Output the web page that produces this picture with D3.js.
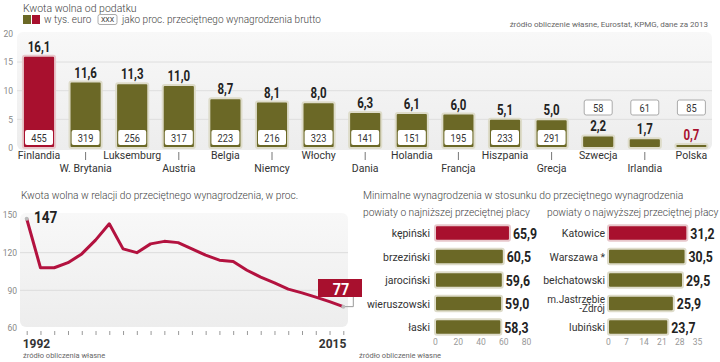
<!DOCTYPE html>
<html>
<head>
<meta charset="utf-8">
<script src="https://cdn.jsdelivr.net/npm/d3@7"></script>
<style>
  body { margin: 0; background: #fff; }
  svg { display: block; font-family: Roboto, "Liberation Sans", sans-serif; }
  .title { font-weight: 300; fill: #444; }
</style>
</head>
<body>
<svg id="chart" width="720" height="362"></svg>
<script>
// top chart data
const countries = ["Finlandia", "W. Brytania", "Luksemburg", "Austria", "Belgia", "Niemcy", "Włochy",
  "Dania", "Holandia", "Francja", "Hiszpania", "Grecja", "Szwecja", "Irlandia", "Polska"];
const kwota = [16.1, 11.6, 11.3, 11.0, 8.7, 8.1, 8.0, 6.3, 6.1, 6.0, 5.1, 5.0, 2.2, 1.7, 0.7];
const procent = [455, 319, 256, 317, 223, 216, 323, 141, 151, 195, 233, 291, 58, 61, 85];
const topTicks = [0, 5, 10, 15, 20];

// line chart data
const years = d3.range(1992, 2016);
const relacja = [147, 108, 108, 112, 119, 130, 143, 123, 120, 127, 129, 128, 123, 118, 114, 113,
  106, 100.5, 96, 91, 88, 84.6, 81, 77];
const lineTicks = [60, 90, 120, 150];

// bottom-right bars
const lowNames = ["kępiński", "brzeziński", "jarociński", "wieruszowski", "łaski"];
const lowVals = [65.9, 60.5, 59.6, 59.0, 58.3];
const lowTicks = [0, 20, 40, 60, 80];
const highNames = ["Katowice", "Warszawa *", "bełchatowski", "m.Jastrzębie\n-Zdrój", "lubiński"];
const highVals = [31.2, 30.5, 29.5, 25.9, 23.7];
const highTicks = [0, 7, 14, 21, 28, 35];

const RED = "#a8102e";
const OLIVE = "#6b6826";
const BORDER = "#dedcca";
const fmt = (v) => d3.format(".1f")(v).replace(".", ",");

// squeeze bold numbers so they look like the narrow newspaper face
function condense(sel, f) {
  sel.each(function () {
    const len = this.getComputedTextLength();
    d3.select(this).attr("textLength", len * f).attr("lengthAdjust", "spacingAndGlyphs");
  });
}

const svg = d3.select("#chart");

const defs = svg.append("defs");
const grad = defs.append("linearGradient").attr("id", "panel").attr("x1", 0).attr("y1", 0).attr("x2", 0).attr("y2", 1);
grad.append("stop").attr("offset", 0).attr("stop-color", "#f8f8f8");
grad.append("stop").attr("offset", 1).attr("stop-color", "#ededed");

// ---------- top chart ----------
svg.append("text").attr("class", "title").attr("x", 23).attr("y", 12).attr("font-size", 10.5)
  .text("Kwota wolna od podatku");
svg.append("rect").attr("x", 23).attr("y", 15).attr("width", 8).attr("height", 9).attr("fill", OLIVE);
svg.append("rect").attr("x", 32).attr("y", 15).attr("width", 8).attr("height", 9).attr("fill", RED);
svg.append("text").attr("class", "title").attr("x", 44).attr("y", 23).attr("font-size", 10).text("w tys. euro");
svg.append("rect").attr("x", 98).attr("y", 14.5).attr("width", 19).attr("height", 10).attr("rx", 2)
  .attr("fill", "#fff").attr("stroke", "#aaa");
svg.append("text").attr("x", 107.5).attr("y", 22).attr("font-size", 7).attr("text-anchor", "middle")
  .attr("fill", "#333").text("XXX");
svg.append("text").attr("class", "title").attr("x", 122).attr("y", 23).attr("font-size", 10)
  .text("jako proc. przeciętnego wynagrodzenia brutto");
svg.append("text").attr("x", 708).attr("y", 27).attr("font-size", 8).attr("text-anchor", "end")
  .attr("fill", "#666").text("źródło obliczenie własne, Eurostat, KPMG, dane za 2013");

const xTop = d3.scaleBand().domain(countries).range([15.7, 714.7]).paddingInner(0.31).paddingOuter(0.155);
const yTop = d3.scaleLinear().domain([0, 20]).range([148, 33.4]);

svg.append("rect").attr("x", 17).attr("y", 32).attr("width", 695).attr("height", 118).attr("rx", 6)
  .attr("fill", "url(#panel)");
svg.append("g").selectAll("line").data([5, 10, 15]).join("line")
  .attr("x1", 17).attr("x2", 712).attr("y1", (d) => yTop(d)).attr("y2", (d) => yTop(d))
  .attr("stroke", "#dedede");

const yTopAxis = svg.append("g").attr("transform", "translate(16,0)")
  .call(d3.axisLeft(yTop).tickValues(topTicks).tickSize(0).tickPadding(3));
yTopAxis.select(".domain").remove();
yTopAxis.selectAll("text").attr("font-size", 8.5).attr("fill", "#888").attr("font-family", "Roboto");

const tb = svg.append("g");
countries.forEach((c, i) => {
  const x = xTop(c), w = xTop.bandwidth(), cx = x + w / 2;
  const y = yTop(kwota[i]);
  tb.append("rect").attr("x", x).attr("y", y).attr("width", w).attr("height", yTop(0) - y)
    .attr("rx", 2).attr("fill", i === 0 ? RED : OLIVE).attr("stroke", i === 0 ? "#e8c8cc" : BORDER)
    .attr("stroke-width", 2);
  tb.append("text").attr("class", "num").attr("x", cx).attr("y", y - 4).attr("text-anchor", "middle")
    .attr("font-size", 14).attr("font-weight", "bold").attr("fill", i === countries.length - 1 ? RED : "#222")
    .text(fmt(kwota[i]));
  const inside = kwota[i] >= 4;
  const by = inside ? 130 : 100;
  tb.append("rect").attr("x", cx - 14).attr("y", by).attr("width", 28).attr("height", 15).attr("rx", 2)
    .attr("fill", "#fff").attr("stroke", inside ? "none" : "#aaa");
  tb.append("text").attr("class", "pct").attr("x", cx).attr("y", by + 11.5).attr("text-anchor", "middle")
    .attr("font-size", 10.5).attr("fill", "#333").text(procent[i]);
  const row = i % 2;
  if (row === 1) {
    tb.append("line").attr("x1", cx).attr("x2", cx).attr("y1", 152).attr("y2", 160)
      .attr("stroke", "#777");
  }
  tb.append("text").attr("x", cx).attr("y", row ? 172 : 159).attr("text-anchor", "middle")
    .attr("font-size", 10.5).attr("fill", "#333").text(c);
});
condense(tb.selectAll("text.num"), 0.82);
condense(tb.selectAll("text.pct"), 0.88);

// ---------- line chart ----------
svg.append("text").attr("class", "title").attr("x", 21).attr("y", 199).attr("font-size", 10.2)
  .text("Kwota wolna w relacji do przeciętnego wynagrodzenia, w proc.");

const xLine = d3.scaleLinear().domain([1992, 2015]).range([26.7, 343.3]);
const yLine = d3.scaleLinear().domain([60, 150]).range([328, 215]);

svg.append("rect").attr("x", 20).attr("y", 213).attr("width", 328).attr("height", 114).attr("rx", 6)
  .attr("fill", "url(#panel)");
svg.append("g").selectAll("line").data([90, 120]).join("line")
  .attr("x1", 20).attr("x2", 348).attr("y1", (d) => yLine(d)).attr("y2", (d) => yLine(d))
  .attr("stroke", "#dcdcdc");

const yLineAxis = svg.append("g").attr("transform", "translate(19,0)")
  .call(d3.axisLeft(yLine).tickValues(lineTicks).tickSize(0).tickPadding(2));
yLineAxis.select(".domain").remove();
yLineAxis.selectAll("text").attr("font-size", 8.5).attr("fill", "#888").attr("font-family", "Roboto");

const xLineAxis = svg.append("g").attr("transform", "translate(0,331)")
  .call(d3.axisBottom(xLine).tickValues(years).tickSize(4).tickFormat(""));
xLineAxis.select(".domain").remove();
xLineAxis.selectAll("line").attr("stroke", "#999");

svg.append("text").attr("x", xLine(1992) - 4).attr("y", 348).attr("font-size", 12).attr("font-weight", "bold")
  .attr("fill", "#333").text("1992");
svg.append("text").attr("x", xLine(2015) + 3).attr("y", 348).attr("text-anchor", "end").attr("font-size", 12)
  .attr("font-weight", "bold").attr("fill", "#333").text("2015");
svg.append("text").attr("x", 23).attr("y", 358).attr("font-size", 7.5).attr("fill", "#666")
  .text("źródło obliczenia własne");

const line = d3.line().x((d, i) => xLine(years[i])).y((d) => yLine(d));
svg.append("path").datum(relacja).attr("fill", "none").attr("stroke", "#b3123f").attr("stroke-width", 3)
  .attr("stroke-linejoin", "round").attr("d", line);

const last = relacja.length - 1;
svg.append("circle").attr("cx", xLine(years[0])).attr("cy", yLine(relacja[0])).attr("r", 2).attr("fill", "#bbb");
const t147 = svg.append("text").attr("x", 34).attr("y", 222.5).attr("font-size", 17)
  .attr("font-weight", "bold").attr("fill", "#222").text(relacja[0]);
condense(t147, 0.8);

const lx = xLine(years[last]), ly = yLine(relacja[last]);
svg.append("path").attr("d", `M${lx},${ly}H${lx + 10}V297`).attr("fill", "none").attr("stroke", "#999");
svg.append("circle").attr("cx", lx).attr("cy", ly).attr("r", 2).attr("fill", "#bbb");
svg.append("rect").attr("x", 318).attr("y", 279).attr("width", 44).attr("height", 18).attr("fill", RED);
const t77 = svg.append("text").attr("x", 341).attr("y", 294.5).attr("text-anchor", "middle")
  .attr("font-size", 17).attr("font-weight", "bold").attr("fill", "#fff").text(relacja[last]);
condense(t77, 0.85);

// ---------- bottom-right bars ----------
svg.append("text").attr("class", "title").attr("x", 363).attr("y", 199).attr("font-size", 10.4)
  .text("Minimalne wynagrodzenia w stosunku do przeciętnego wynagrodzenia");
svg.append("text").attr("class", "title").attr("x", 363).attr("y", 216).attr("font-size", 10.2)
  .text("powiaty o najniższej przeciętnej płacy");
svg.append("text").attr("class", "title").attr("x", 547).attr("y", 216).attr("font-size", 10.2)
  .text("powiaty o najwyższej przeciętnej płacy");
svg.append("text").attr("x", 359).attr("y", 358).attr("font-size", 7.5).attr("fill", "#666")
  .text("źródło obliczenie własne");

function hbars(names, vals, ticks, x0, x1, labelX) {
  const x = d3.scaleLinear().domain([0, ticks[ticks.length - 1]]).range([x0, x1]);
  const y = d3.scaleBand().domain(names).range([221.3, 338.8]).paddingInner(0.34).paddingOuter(0.17);
  const g = svg.append("g");
  names.forEach((n, i) => {
    const yy = y(n), h = y.bandwidth(), cy = yy + h / 2;
    g.append("rect").attr("x", x(0)).attr("y", yy).attr("width", x(vals[i]) - x(0)).attr("height", h)
      .attr("rx", 2).attr("fill", i === 0 ? RED : OLIVE).attr("stroke", i === 0 ? "#e8c8cc" : BORDER)
      .attr("stroke-width", 2);
    g.append("text").attr("class", "num").attr("x", x(vals[i]) + 3).attr("y", cy + 5.5)
      .attr("font-size", 15).attr("font-weight", "bold").attr("fill", "#222").text(fmt(vals[i]));
    const parts = n.split("\n");
    parts.forEach((p, k) => {
      g.append("text").attr("x", labelX)
        .attr("y", cy + 4 + (k - (parts.length - 1) / 2) * 9.5)
        .attr("text-anchor", "end").attr("font-size", parts.length > 1 ? 10 : 10.5).attr("fill", "#333")
        .text(p);
    });
  });
  condense(g.selectAll("text.num"), 0.82);
  const ax = g.append("g").attr("transform", "translate(0,337)")
    .call(d3.axisBottom(x).tickValues(ticks).tickSize(0).tickPadding(2));
  ax.select(".domain").remove();
  ax.selectAll("text").attr("font-size", 8.5).attr("fill", "#999").attr("font-family", "Roboto");
}

hbars(lowNames, lowVals, lowTicks, 435, 526, 430);
hbars(highNames, highVals, highTicks, 608, 697, 605);
</script>
</body>
</html>
